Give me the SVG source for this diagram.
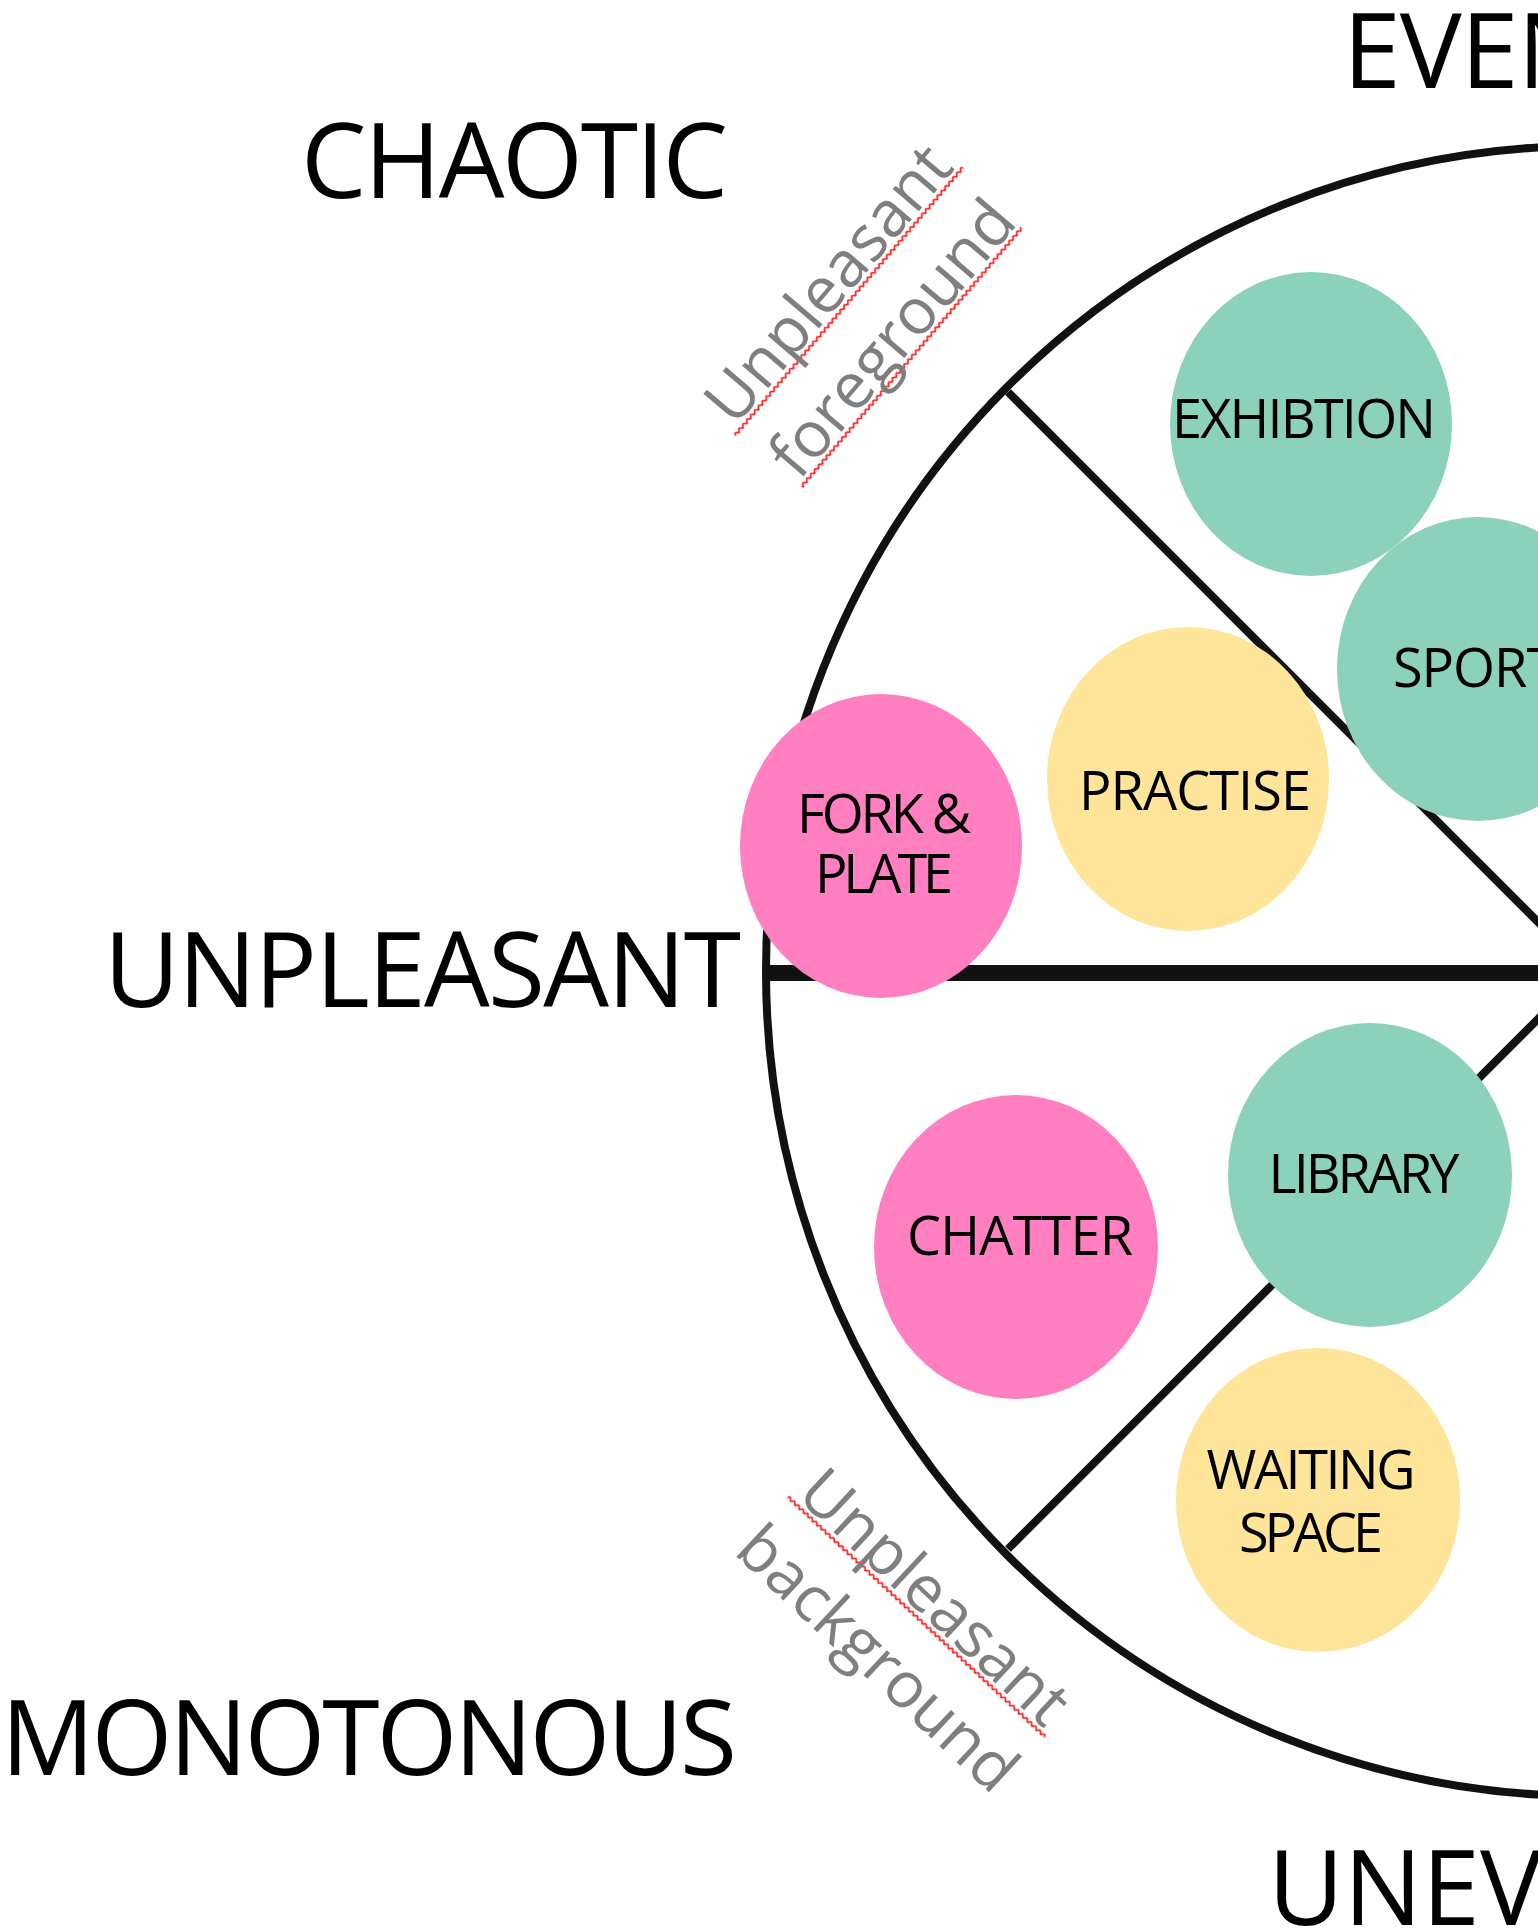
<svg xmlns="http://www.w3.org/2000/svg" width="1538" height="1932" viewBox="0 0 1538 1932">
  <defs>
    <style>
      .axis { font-family: "Open Sans", "Noto Sans", "DejaVu Sans", sans-serif; font-size: 104px; fill: #000; }
      .node-label { font-family: "Open Sans", "Noto Sans", "DejaVu Sans", sans-serif; font-size: 54px; fill: #000; text-anchor: middle; }
      .note { font-family: "Open Sans", "Noto Sans", "DejaVu Sans", sans-serif; font-size: 64px; fill: #7f7f7f; text-anchor: middle; }
      .wheel { fill: none; stroke: #111; stroke-width: 8; }
      .spoke { stroke: #111; stroke-width: 8; }
      .axis-line { stroke: #111; stroke-width: 16; }
      .teal { fill: #8cd1bc; }
      .yellow { fill: #ffe599; }
      .pink { fill: #ff7fc0; }
    </style>
    <!-- wavy spell-check underline -->
    <pattern id="squiggle" patternUnits="userSpaceOnUse" x="0" y="2" width="6" height="6">
      <path d="M0,1.5 L3,4.5 L6,1.5" fill="none" stroke="#ff1a1a" stroke-width="1.7"/>
    </pattern>
  </defs>

  <rect width="1538" height="1932" fill="#fff"/>

  <!-- wheel outline, horizontal axis and sector dividers -->
  <g id="connectors">
    <ellipse class="wheel" cx="1587" cy="971" rx="821" ry="825"/>
    <line class="spoke" x1="1008" y1="392" x2="1587" y2="971"/>
    <line class="spoke" x1="1008" y1="1549" x2="1587" y2="970"/>
    <line class="axis-line" x1="767" y1="973" x2="1538" y2="973"/>
  </g>

  <!-- axis labels -->
  <g id="labels">
    <text class="axis" x="301" y="198" textLength="427" lengthAdjust="spacing">CHAOTIC</text>
    <text class="axis" x="104" y="1007" textLength="637" lengthAdjust="spacing">UNPLEASANT</text>
    <text class="axis" x="1" y="1775" textLength="736" lengthAdjust="spacing">MONOTONOUS</text>
    <text class="axis" x="1343" y="88" letter-spacing="-1">EVENTFUL</text>
    <text class="axis" x="1268" y="1925">UNEVENTFUL</text>
  </g>

  <!-- sector notes -->
  <g id="note-foreground" transform="translate(845,298) rotate(-49.6)">
    <rect x="-176" y="2" width="352" height="6" fill="url(#squiggle)"/>
    <rect x="-172" y="86" width="340" height="6" fill="url(#squiggle)"/>
    <text class="note" x="0" y="0">Unpleasant</text>
    <text class="note" x="0" y="84">foreground</text>
  </g>
  <g id="note-background" transform="translate(920,1613) rotate(43)">
    <rect x="-176" y="2" width="352" height="6" fill="url(#squiggle)"/>
    <text class="note" x="0" y="0">Unpleasant</text>
    <text class="note" x="0" y="84">background</text>
  </g>

  <!-- activity nodes -->
  <g id="node-exhibtion">
    <ellipse class="teal" cx="1311" cy="424" rx="141" ry="152"/>
    <text class="node-label" x="1304" y="438" textLength="264" lengthAdjust="spacing">EXHIBTION</text>
  </g>
  <g id="node-sport">
    <ellipse class="teal" cx="1478" cy="669" rx="141" ry="152"/>
    <text class="node-label" x="1393" y="687" style="text-anchor:start" letter-spacing="-1">SPORT</text>
  </g>
  <g id="node-practise">
    <ellipse class="yellow" cx="1188" cy="779" rx="141" ry="152"/>
    <text class="node-label" x="1195" y="810" textLength="232" lengthAdjust="spacing">PRACTISE</text>
  </g>
  <g id="node-fork-plate">
    <ellipse class="pink" cx="881" cy="846" rx="141" ry="152"/>
    <text class="node-label" x="884" y="833" textLength="174" lengthAdjust="spacing">FORK &amp;</text>
    <text class="node-label" x="884" y="893" textLength="138" lengthAdjust="spacing">PLATE</text>
  </g>
  <g id="node-chatter">
    <ellipse class="pink" cx="1016" cy="1247" rx="142" ry="152"/>
    <text class="node-label" x="1020" y="1255" textLength="226" lengthAdjust="spacing">CHATTER</text>
  </g>
  <g id="node-library">
    <ellipse class="teal" cx="1370" cy="1175" rx="142" ry="152"/>
    <text class="node-label" x="1364" y="1193" textLength="191" lengthAdjust="spacing">LIBRARY</text>
  </g>
  <g id="node-waiting-space">
    <ellipse class="yellow" cx="1318" cy="1500" rx="142" ry="152"/>
    <text class="node-label" x="1311" y="1489" textLength="209" lengthAdjust="spacing">WAITING</text>
    <text class="node-label" x="1311" y="1552" textLength="144" lengthAdjust="spacing">SPACE</text>
  </g>
</svg>
